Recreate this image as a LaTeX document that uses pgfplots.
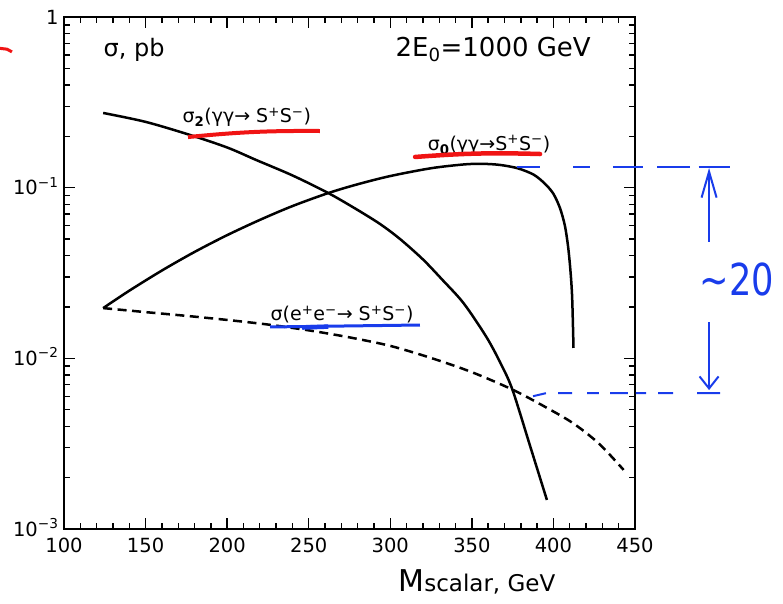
\documentclass[border=0pt]{standalone}
\usepackage{fontspec}
\setmainfont{DejaVu Sans}
\usepackage{pgfplots}
\pgfplotsset{compat=1.18}
\usetikzlibrary{arrows.meta}
\definecolor{pen}{RGB}{25,60,235}
\definecolor{rpen}{RGB}{240,20,20}
\newcommand{\fs}[1]{\fontsize{#1}{#1}\selectfont}

\begin{document}
\begin{tikzpicture}
\useasboundingbox (-64pt,-74pt) rectangle (719pt,529pt);
\begin{axis}[
  at={(0,0)}, anchor=south west,
  scale only axis, width=571pt, height=512pt,
  xmin=100, xmax=450, ymode=log, ymin=1e-3, ymax=1,
  xtick={100,150,...,450}, minor x tick num=4,
  ytick={1e-3,1e-2,1e-1,1},
  yticklabels={10\textsuperscript{−3},10\textsuperscript{−2},10\textsuperscript{−1},1\hspace{12pt}},
  tick align=inside,
  major tick length=11pt, minor tick length=6pt,
  tick style={black, line width=1.4pt},
  axis line style={line width=1.8pt},
  ticklabel style={font=\fs{19.5}},
  /pgf/number format/assume math mode=true,
  xticklabel style={yshift=-5pt},
  yticklabel style={anchor=base east, yshift=-7pt, xshift=-2pt},
  clip=false,
  xlabel={{\fs{30}M}{\fs{23}scalar, GeV}},
  xlabel style={at={(axis description cs:0.723,0)}, anchor=base, yshift=-62pt},
]
% sigma_2 (gamma gamma -> S+S-)
\addplot[line width=2.5pt, smooth] coordinates {
(124,0.274) (150,0.243) (177,0.204) (200,0.172) (218,0.145) (240,0.118)
(262,0.093) (280,0.074) (294,0.061) (306,0.050) (320,0.038) (332,0.0288)
(345,0.021) (359,0.0133) (368,0.0092) (375,0.0065) (386,0.0030) (396,0.00148)};
% sigma_0 (gamma gamma -> S+S-)
\addplot[line width=2.5pt, smooth] coordinates {
(124,0.0197) (140,0.0249) (160,0.0327) (180,0.042) (200,0.0527) (220,0.0647)
(240,0.078) (262,0.093) (280,0.1047) (300,0.117) (325,0.130) (345,0.1368)
(356,0.138) (367,0.136) (378,0.130) (388,0.119) (395,0.105) (400,0.092)
(404,0.076) (407,0.060) (409,0.045) (410.5,0.032) (411.5,0.0224) (412.3,0.0115)};
% sigma (e+e- -> S+S-)
\addplot[line width=2.5pt, smooth, dash pattern=on 9pt off 5.5pt] coordinates {
(124,0.0197) (150,0.01866) (175,0.01774) (200,0.01679) (225,0.01578) (250,0.01459)
(275,0.01327) (300,0.01183) (325,0.01005) (350,0.0083) (375,0.00655) (395,0.00519)
(412,0.00417) (428,0.00316) (443,0.00222)};

% texts
\node[anchor=base west, font=\fs{24}] at (axis cs:122.1,0.583) {σ, pb};
\node[anchor=base west, font=\fs{26}] at (axis cs:301.1,0.583) {2E\textsubscript{0}=1000 GeV};
\node[anchor=base west, font=\fs{19}] at (axis cs:170.5,0.240) {σ\textsubscript{\bfseries 2}(γγ→ S\textsuperscript{+}S\textsuperscript{−})};
\node[anchor=base west, font=\fs{19}] at (axis cs:320.8,0.166) {σ\textsubscript{\bfseries 0}(γγ→S\textsuperscript{+}S\textsuperscript{−})};
\node[anchor=base west, font=\fs{19}] at (axis cs:224.5,0.01660) {σ(e\textsuperscript{+}e\textsuperscript{−}→ S\textsuperscript{+}S\textsuperscript{−})};

% hand-drawn annotations
\draw[rpen, line width=3pt] (axis cs:60.8,0.655) -- (axis cs:65,0.648) -- (axis cs:68.1,0.625);
\draw[rpen, line width=4pt] (axis cs:176,0.198) to[bend left=3] (axis cs:256.9,0.2148);
\draw[rpen, line width=4.5pt, line cap=round] (axis cs:315.2,0.1513) to[bend left=3] (axis cs:391.8,0.1575);
\draw[pen, line width=3pt] (axis cs:226.3,0.01527) -- (axis cs:318.2,0.01568);
\draw[pen, line width=4.5pt] (axis cs:246,0.01515) -- (axis cs:262,0.01535);
\draw[pen, line width=2pt]
  (axis cs:377.7,0.1322) -- (axis cs:391.8,0.1322)
  (axis cs:412.0,0.1322) -- (axis cs:422.4,0.1322)
  (axis cs:436.5,0.1322) -- (axis cs:454.9,0.1322)
  (axis cs:463.5,0.1322) -- (axis cs:483.7,0.1322)
  (axis cs:489.0,0.1322) -- (axis cs:508.2,0.1322);
\draw[pen, line width=2pt]
  (axis cs:387.5,0.0060) -- (axis cs:395.4,0.00625)
  (axis cs:402.8,0.00626) -- (axis cs:411.4,0.00626)
  (axis cs:420.6,0.00626) -- (axis cs:427.9,0.00626)
  (axis cs:434.7,0.00626) -- (axis cs:445.7,0.00626)
  (axis cs:450.6,0.00626) -- (axis cs:456.8,0.00626)
  (axis cs:464.1,0.00626) -- (axis cs:473.3,0.00626)
  (axis cs:488.0,0.00626) -- (axis cs:502.1,0.00626);
\draw[pen, line width=2pt, -{Straight Barb[length=26pt,width=15pt]}] (axis cs:495.4,0.0481) -- (axis cs:495.4,0.1304);
\draw[pen, line width=2pt, -{Straight Barb[length=12pt,width=19pt]}] (axis cs:495.4,0.01633) -- (axis cs:495.4,0.00652);
\node[pen, font=\fs{44}] at (axis cs:512.5,0.0288) {\scalebox{0.8}[1]{∼20}};
\end{axis}
\end{tikzpicture}
\end{document}
